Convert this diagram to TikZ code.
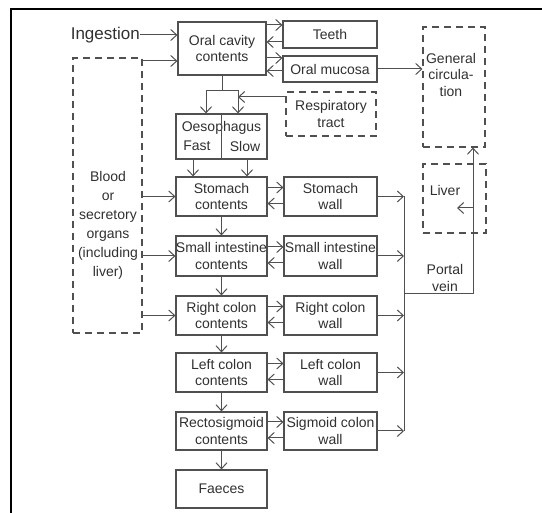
\documentclass[tikz,border=0pt]{standalone}
\usepackage{fontspec}
\setmainfont{Liberation Sans}
\usepackage{tikz}
\usetikzlibrary{arrows.meta}
\definecolor{ink}{HTML}{303030}
\definecolor{wire}{HTML}{505050}

\begin{document}
\begin{tikzpicture}[x=1pt,y=-1pt]
    \tikzstyle{cbox}=[
      draw=wire,
      line width=1.1pt,
      rectangle,
      inner sep=0pt,
      align=center,
      text=ink,
      font=\fontsize{14}{16.5}\selectfont,
      minimum width=91pt,
      minimum height=39pt,
    ]
    \tikzstyle{wbox}=[
      cbox,
      minimum width=93pt,
    ]
    \tikzstyle{dbox}=[
      cbox,
      dash pattern=on 7pt off 5pt,
    ]
    \tikzstyle{txt}=[
      inner sep=0pt,
      align=center,
      text=ink,
      font=\fontsize{14}{16.5}\selectfont,
    ]
    \tikzstyle{line} = [draw=wire,line width=1pt]
    \tikzstyle{flow} = [line,-{Straight Barb[length=6pt,width=11pt]}]

    \useasboundingbox (0,0) rectangle (542,513);
    \draw[line width=2pt] (11,513)--(11,9)--(542,9);

    {
      \node[cbox,minimum width=88pt,minimum height=53pt] (oral) at (222,48.5) {Oral cavity\\contents};
      \node[wbox,minimum width=94pt,minimum height=27pt] (teeth) at (330,34.5) {Teeth};
      \node[wbox,minimum width=94pt,minimum height=26pt] (mucosa) at (330,69) {Oral mucosa};
      \node[dbox,minimum width=90pt,minimum height=44pt] (resp) at (331,114) {Respiratory\\tract};
      \node[dbox,minimum width=62pt,minimum height=120pt] (gencirc) at (454,87) {};
      \node[txt,anchor=north] (gentxt) at (451,53) {General\\circula-\\tion};
      \node[dbox,minimum width=63pt,minimum height=69pt] (liver) at (454.5,198.5) {};
      \node[txt] (livertxt) at (445,190) {Liver};
      \node[dbox,minimum width=69pt,minimum height=275pt] (blood) at (107.5,195.5) {};
      \node[txt,font=\fontsize{14}{19}\selectfont] (bloodtxt) at (108,225) {Blood\\or\\secretory\\organs\\(including\\liver)};
      \node[txt,anchor=east,font=\fontsize{17}{20}\selectfont] (ingest) at (140,35) {Ingestion};

      \node[cbox,minimum height=45pt] (oeso) at (221.5,136.5) {};
      \node[txt] (oesotxt) at (221.5,128) {Oesophagus};
      \node[txt] (fast) at (197,146) {Fast};
      \node[txt] (slow) at (245,146) {Slow};

      \node[cbox] (stomc) at (221.5,196.5) {Stomach\\contents};
      \node[cbox,minimum height=40pt] (sic) at (221.5,256) {Small intestine\\contents};
      \node[cbox] (rcc) at (221.5,315.5) {Right colon\\contents};
      \node[cbox] (lcc) at (221.5,372.5) {Left colon\\contents};
      \node[cbox,minimum height=38pt] (rsc) at (221.5,431) {Rectosigmoid\\contents};
      \node[cbox,minimum height=38pt] (faeces) at (221.5,489) {Faeces};

      \node[wbox] (stomw) at (330.5,196.5) {Stomach\\wall};
      \node[wbox,minimum height=40pt] (siw) at (330.5,256) {Small intestine\\wall};
      \node[wbox] (rcw) at (330.5,315.5) {Right colon\\wall};
      \node[wbox] (lcw) at (330.5,372.5) {Left colon\\wall};
      \node[wbox,minimum height=38pt] (sigw) at (330.5,431) {Sigmoid colon\\wall};

      \node[txt] (portal) at (445,278) {Portal\\vein};

      \coordinate (b0) at (142,61);
      \coordinate (t1) at (0,25);
      \coordinate (t2) at (0,42);
      \coordinate (m1) at (0,58);
      \coordinate (m2) at (0,71);
      \coordinate (ofork) at (222,91);
      \coordinate (fl) at (206,91);
      \coordinate (fr) at (238,91);
      \coordinate (rin) at (238,97);
      \coordinate (pv) at (404,294);
      \coordinate (pvc) at (473,294);
      \coordinate (lv) at (457,208);
    }

    {
      \draw[flow] (ingest.east)--(ingest.east -| oral.west);
      \draw[flow] (b0)--(b0 -| oral.west);

      \draw[flow] (t1 -| oral.east)--(t1 -| teeth.west);
      \draw[flow] (t2 -| teeth.west)--(t2 -| oral.east);
      \draw[flow] (m1 -| oral.east)--(m1 -| mucosa.west);
      \draw[flow] (m2 -| mucosa.west)--(m2 -| oral.east);
      \draw[flow] (mucosa.east)--(mucosa.east -| gencirc.west);

      \draw[line] (oral.south)--(ofork);
      \draw[flow] (ofork)--(fl)--(fl |- oeso.north);
      \draw[flow] (ofork)--(fr)--(fr |- oeso.north);
      \draw[flow] (rin -| resp.west)--(rin);
      \draw[line] (oeso.north)--(oeso.south);
      \draw[flow] ([xshift=-28.5pt]oeso.south)--([xshift=-28.5pt]stomc.north);
      \draw[flow] ([xshift=25.5pt]oeso.south)--([xshift=25.5pt]stomc.north);

      \draw[flow] (blood.east |- stomc.west)--(stomc.west);
      \draw[flow] (blood.east |- sic.west)--(sic.west);
      \draw[flow] (blood.east |- rcc.west)--(rcc.west);

      \draw[flow] (stomc)--(sic);
      \draw[flow] (sic)--(rcc);
      \draw[flow] (rcc)--(lcc);
      \draw[flow] (lcc)--(rsc);
      \draw[flow] (rsc)--(faeces);

      \foreach \c/\w in {stomc/stomw,sic/siw,rcc/rcw,lcc/lcw,rsc/sigw} {
        \draw[flow] ([yshift=9pt]\c.east)--([yshift=9pt]\w.west);
        \draw[flow] ([yshift=-7pt]\w.west)--([yshift=-7pt]\c.east);
        \draw[flow] (\w.east)--(\w.east -| pv);
      }

      \draw[line] (stomw.east -| pv)--(sigw.east -| pv);
      \draw[flow] (pv)--(pvc)--(pvc |- gencirc.south);
      \draw[flow] (lv -| pvc)--(lv);
    }
\end{tikzpicture}
\end{document}
